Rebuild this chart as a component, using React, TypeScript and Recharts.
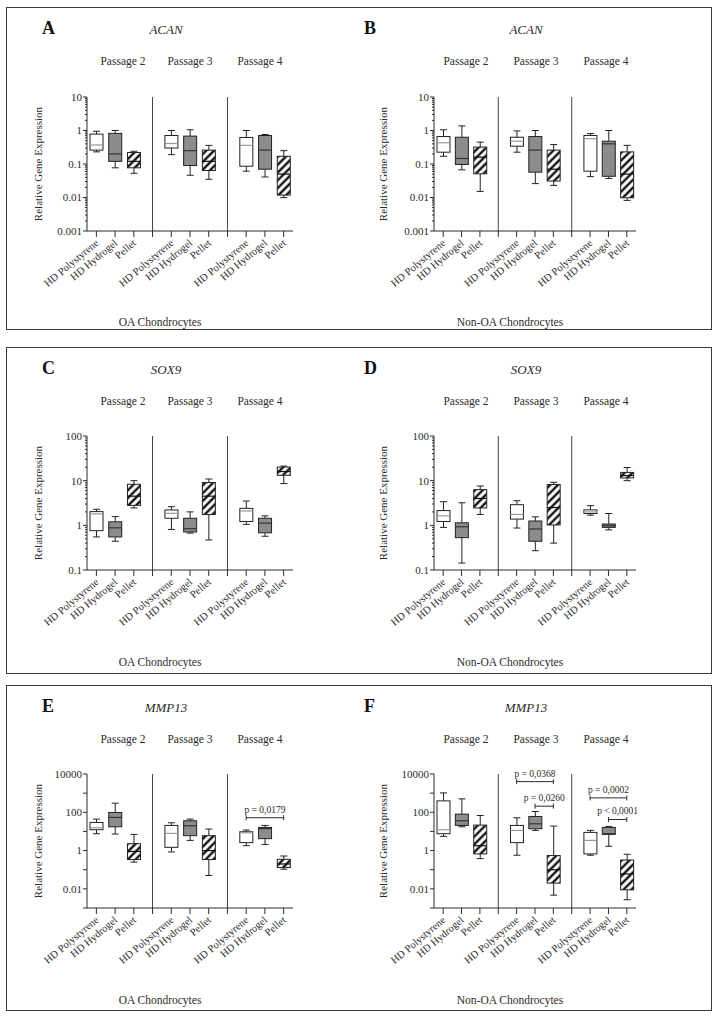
import React from "react"
import { ComposedChart, Bar, XAxis, YAxis, ReferenceLine } from "recharts"

const FONT = '"Liberation Serif", "Times New Roman", serif'
const INK = "#2b2b2b"

const CONDITIONS = ["HD Polystyrene", "HD Hydrogel", "Pellet"]
const PASSAGES = ["Passage 2", "Passage 3", "Passage 4"]

// one box = [min, q1, median, q3, max]
// order: Passage 2 (polystyrene, hydrogel, pellet), Passage 3 (...), Passage 4 (...)
const acanOA = [
  [0.23, 0.26, 0.37, 0.78, 0.95],
  [0.077, 0.12, 0.2, 0.82, 1.0],
  [0.053, 0.077, 0.12, 0.22, 0.24],
  [0.19, 0.3, 0.41, 0.71, 1.0],
  [0.046, 0.09, 0.25, 0.68, 1.05],
  [0.035, 0.064, 0.12, 0.26, 0.36],
  [0.061, 0.086, 0.36, 0.62, 1.0],
  [0.041, 0.07, 0.26, 0.71, 0.76],
  [0.0099, 0.0118, 0.05, 0.17, 0.25],
]

const acanNonOA = [
  [0.17, 0.225, 0.43, 0.66, 1.05],
  [0.067, 0.097, 0.146, 0.63, 1.37],
  [0.0152, 0.051, 0.16, 0.32, 0.45],
  [0.225, 0.34, 0.48, 0.63, 0.97],
  [0.026, 0.057, 0.26, 0.66, 1.0],
  [0.023, 0.031, 0.07, 0.26, 0.38],
  [0.042, 0.061, 0.57, 0.71, 0.81],
  [0.037, 0.043, 0.4, 0.48, 1.0],
  [0.0082, 0.0098, 0.05, 0.23, 0.36],
]

const sox9OA = [
  [0.55, 0.76, 1.8, 2.03, 2.29],
  [0.44, 0.55, 0.88, 1.2, 1.57],
  [2.45, 2.8, 4.5, 8.3, 10],
  [0.81, 1.44, 1.86, 2.21, 2.62],
  [0.67, 0.71, 0.84, 1.44, 2.0],
  [0.47, 1.74, 4.5, 9.1, 10.9],
  [1.05, 1.22, 2.1, 2.4, 3.5],
  [0.57, 0.68, 1.12, 1.44, 1.63],
  [8.6, 13.2, 16, 20.2, 21.2],
]

const sox9NonOA = [
  [0.9, 1.22, 1.63, 2.14, 3.38],
  [0.143, 0.53, 0.93, 1.14, 3.2],
  [1.75, 2.45, 4.0, 6.3, 7.6],
  [0.87, 1.38, 1.75, 2.9, 3.56],
  [0.27, 0.44, 0.83, 1.25, 1.55],
  [0.4, 1.02, 2.5, 8.2, 9.2],
  [1.69, 1.84, 2.0, 2.22, 2.76],
  [0.79, 0.9, 0.98, 1.07, 1.84],
  [10, 11.5, 13, 15.3, 19.7],
]

const mmp13OA = [
  [7.6, 12.3, 15.6, 29.5, 44],
  [7.3, 17.5, 53.7, 97.6, 298],
  [0.25, 0.34, 0.9, 2.3, 7.0],
  [0.85, 1.48, 7.9, 20.6, 28.3],
  [3.4, 6.0, 19.8, 36, 44],
  [0.05, 0.34, 1.0, 6.0, 13.3],
  [1.8, 2.6, 8.5, 9.6, 11.8],
  [2.1, 4.2, 14, 16.2, 20.6],
  [0.106, 0.13, 0.2, 0.35, 0.52],
]

const mmp13NonOA = [
  [5.5, 7.6, 12.3, 394, 1028],
  [17.5, 20.6, 36, 80, 501],
  [0.38, 0.67, 1.8, 21.4, 68],
  [0.57, 2.6, 11.3, 20.6, 51.6],
  [11.3, 13.8, 25, 60.5, 110],
  [0.0047, 0.02, 0.1, 0.55, 19],
  [0.57, 0.67, 3.4, 8.9, 11.3],
  [1.67, 7.0, 7.6, 16.2, 18.3],
  [0.0027, 0.0089, 0.06, 0.32, 0.64],
]

// significance brackets: passage index, from/to condition index, height in data units
const mmp13OABrackets = [{ passage: 2, from: 0, to: 2, y: 52, text: "p = 0,0179" }]
const mmp13NonOABrackets = [
  { passage: 1, from: 0, to: 2, y: 3990, text: "p = 0,0368" },
  { passage: 1, from: 1, to: 2, y: 209, text: "p = 0,0260" },
  { passage: 2, from: 0, to: 2, y: 565, text: "p = 0,0002" },
  { passage: 2, from: 1, to: 2, y: 42, text: "p < 0,0001" },
]

const acanTicks = [0.001, 0.01, 0.1, 1, 10]
const sox9Ticks = [0.1, 1, 10, 100]
const mmp13Ticks = [0.001, 0.01, 0.1, 1, 10, 100, 1000, 10000]
const mmp13Labels = [0.01, 1, 100, 10000]

const ROW_TOP = [7, 347, 685]
const ROW_BOTTOM = [330, 674, 1011]
const PLOT_TOP = [97, 436, 774]
const PLOT_H = 134
const SIDES = [
  { chartLeft: 0, plotLeft: 87, plotRight: 293, letterX: 42, geneX: 166, passX: [123, 190, 260], capX: 160, yLabX: 42 },
  { chartLeft: 347, plotLeft: 434, plotRight: 636, letterX: 364, geneX: 526, passX: [466, 536, 606], capX: 510, yLabX: 387 },
]
const CHART_W = 358
const MT = 24
const XAXIS_H = 70

const panels = [
  { id: "A", gene: "ACAN", caption: "OA Chondrocytes", row: 0, side: 0, boxes: acanOA, ticks: acanTicks, labels: acanTicks, minor: true, brackets: [] as any[] },
  { id: "B", gene: "ACAN", caption: "Non-OA Chondrocytes", row: 0, side: 1, boxes: acanNonOA, ticks: acanTicks, labels: acanTicks, minor: true, brackets: [] as any[] },
  { id: "C", gene: "SOX9", caption: "OA Chondrocytes", row: 1, side: 0, boxes: sox9OA, ticks: sox9Ticks, labels: sox9Ticks, minor: true, brackets: [] as any[] },
  { id: "D", gene: "SOX9", caption: "Non-OA Chondrocytes", row: 1, side: 1, boxes: sox9NonOA, ticks: sox9Ticks, labels: sox9Ticks, minor: true, brackets: [] as any[] },
  { id: "E", gene: "MMP13", caption: "OA Chondrocytes", row: 2, side: 0, boxes: mmp13OA, ticks: mmp13Ticks, labels: mmp13Labels, minor: false, brackets: mmp13OABrackets },
  { id: "F", gene: "MMP13", caption: "Non-OA Chondrocytes", row: 2, side: 1, boxes: mmp13NonOA, ticks: mmp13Ticks, labels: mmp13Labels, minor: false, brackets: mmp13NonOABrackets },
]

function buildRows(boxes: number[][]) {
  const rows: any[] = []
  PASSAGES.forEach((_, p) => {
    if (p > 0) rows.push({ key: `sep${p}`, label: "", cond: -1 })
    CONDITIONS.forEach((label, c) => {
      const stats = boxes[p * 3 + c]
      rows.push({ key: `p${p}c${c}`, label, cond: c, stats, range: [stats[0], stats[4]] })
    })
  })
  return rows
}

function withMinor(ticks: number[], minor: boolean) {
  if (!minor) return ticks
  const out: number[] = []
  ticks.forEach((t, i) => {
    out.push(t)
    if (i < ticks.length - 1) for (let m = 2; m <= 9; m++) out.push(+(t * m).toPrecision(6))
  })
  return out
}

const isDecade = (v: number) => Math.abs(Math.log10(v) - Math.round(Math.log10(v))) < 1e-6

function YTick(props: any) {
  const { x, y, payload, labels } = props
  const v = payload.value
  const major = isDecade(v)
  const len = major ? 4 : 2
  const show = labels.some((l: number) => Math.abs(l - v) < 1e-12)
  return (
    <g>
      <line x1={x - len} x2={x} y1={y} y2={y} stroke={INK} strokeWidth={1} />
      {show && (
        <text x={x - 5} y={y} dy="0.35em" textAnchor="end" fontSize={11} fill={INK} fontFamily={FONT}>
          {String(v)}
        </text>
      )}
    </g>
  )
}

function XTick(props: any) {
  const { x, y, payload, labelOf } = props
  const label = labelOf[payload.value] || ""
  const ax = x + 3
  const ay = y + 13
  return (
    <g>
      <line x1={x} x2={x} y1={y} y2={y + 6} stroke={INK} strokeWidth={1} />
      {label && (
        <text x={ax} y={ay} textAnchor="end" fontSize={10.5} fill={INK} fontFamily={FONT} transform={`rotate(-40 ${ax} ${ay})`}>
          {label}
        </text>
      )}
    </g>
  )
}

function BoxShape(props: any) {
  const { x, y, width, height, payload, hatch } = props
  if (!payload || !payload.stats || !isFinite(y) || !isFinite(height)) return null
  const [mn, q1, md, q3, mx] = payload.stats
  const top = Math.min(y, y + height)
  const bottom = Math.max(y, y + height)
  const lo = Math.log10(mn)
  const hi = Math.log10(mx)
  const at = (v: number) => bottom - ((bottom - top) * (Math.log10(v) - lo)) / (hi - lo)
  const cx = x + width / 2
  const cap = 3.5
  const fill = payload.cond === 0 ? "#fff" : payload.cond === 1 ? "#8c8c8c" : `url(#${hatch})`
  const medColor = payload.cond === 0 ? "#999" : payload.cond === 1 ? "#333" : "#111"
  const yq3 = at(q3)
  const yq1 = at(q1)
  return (
    <g>
      <line x1={cx} x2={cx} y1={top} y2={yq3} stroke="#222" />
      <line x1={cx} x2={cx} y1={yq1} y2={bottom} stroke="#222" />
      <line x1={cx - cap} x2={cx + cap} y1={top} y2={top} stroke="#222" />
      <line x1={cx - cap} x2={cx + cap} y1={bottom} y2={bottom} stroke="#222" />
      <rect x={x} y={yq3} width={width} height={Math.max(1, yq1 - yq3)} fill={fill} stroke="#222" strokeWidth={1} />
      <line x1={x} x2={x + width} y1={at(md)} y2={at(md)} stroke={medColor} strokeWidth={1.2} />
    </g>
  )
}

function BracketShape(props: any) {
  const { x1, y1, x2, text } = props
  if (!isFinite(x1) || !isFinite(y1)) return null
  return (
    <g>
      <line x1={x1} x2={x2} y1={y1} y2={y1} stroke={INK} strokeWidth={1} />
      <line x1={x1} x2={x1} y1={y1 - 2.5} y2={y1 + 2.5} stroke={INK} strokeWidth={1} />
      <line x1={x2} x2={x2} y1={y1 - 2.5} y2={y1 + 2.5} stroke={INK} strokeWidth={1} />
      <text x={(x1 + x2) / 2} y={y1 - 5} textAnchor="middle" fontSize={9.5} fill={INK} fontFamily={FONT}>
        {text}
      </text>
    </g>
  )
}

function Panel({ cfg }: { cfg: any }) {
  const side = SIDES[cfg.side]
  const rows = buildRows(cfg.boxes)
  const labelOf: Record<string, string> = {}
  rows.forEach((r) => (labelOf[r.key] = r.label))
  const hatch = `hatch-${cfg.id}`
  const ticks = withMinor(cfg.ticks, cfg.minor)
  const domain = [cfg.ticks[0], cfg.ticks[cfg.ticks.length - 1]]
  const top = PLOT_TOP[cfg.row] - MT
  return (
    <div style={{ position: "absolute", left: side.chartLeft, top }}>
      <ComposedChart
        width={CHART_W}
        height={MT + PLOT_H + XAXIS_H}
        data={rows}
        margin={{ top: MT, right: side.chartLeft + CHART_W - side.plotRight, left: side.plotLeft - side.chartLeft - 60, bottom: 0 }}
      >
        <defs>
          <pattern id={hatch} patternUnits="userSpaceOnUse" width={5.5} height={5.5} patternTransform="rotate(45)">
            <rect width={5.5} height={5.5} fill="#fff" />
            <line x1={2.75} y1={0} x2={2.75} y2={5.5} stroke="#111" strokeWidth={2.4} />
          </pattern>
        </defs>
        <XAxis
          dataKey="key"
          type="category"
          interval={0}
          height={XAXIS_H}
          tickLine={false}
          tickSize={0}
          tickMargin={0}
          axisLine={{ stroke: INK }}
          tick={(p: any) => <XTick {...p} labelOf={labelOf} />}
        />
        <YAxis
          type="number"
          scale="log"
          domain={domain}
          allowDataOverflow
          ticks={ticks}
          interval={0}
          width={60}
          tickLine={false}
          tickSize={0}
          tickMargin={0}
          axisLine={{ stroke: INK }}
          tick={(p: any) => <YTick {...p} labels={cfg.labels} />}
        />
        <ReferenceLine x="sep1" stroke="#444" />
        <ReferenceLine x="sep2" stroke="#444" />
        <Bar dataKey="range" barSize={13} isAnimationActive={false} shape={(p: any) => <BoxShape {...p} hatch={hatch} />} />
        {cfg.brackets.map((b: any, i: number) => (
          <ReferenceLine
            key={i}
            segment={[
              { x: `p${b.passage}c${b.from}`, y: b.y },
              { x: `p${b.passage}c${b.to}`, y: b.y },
            ]}
            ifOverflow="visible"
            shape={(p: any) => <BracketShape {...p} text={b.text} />}
          />
        ))}
      </ComposedChart>
    </div>
  )
}

function Decorations() {
  return (
    <svg width={717} height={1019} style={{ position: "absolute", left: 0, top: 0 }} fontFamily={FONT}>
      {panels.map((cfg) => {
        const side = SIDES[cfg.side]
        const rt = ROW_TOP[cfg.row]
        const cy = PLOT_TOP[cfg.row] + PLOT_H / 2
        return (
          <g key={cfg.id} fill={INK}>
            <text x={side.letterX} y={rt + 27} fontSize={18} fontWeight="bold" fill="#111">
              {cfg.id}
            </text>
            <text x={side.geneX} y={rt + 27} fontSize={13} fontStyle="italic" textAnchor="middle">
              {cfg.gene}
            </text>
            {PASSAGES.map((p, i) => (
              <text key={p} x={side.passX[i]} y={rt + 58} fontSize={11.5} textAnchor="middle">
                {p}
              </text>
            ))}
            <text x={side.yLabX} y={cy} fontSize={11} textAnchor="middle" transform={`rotate(-90 ${side.yLabX} ${cy})`}>
              Relative Gene Expression
            </text>
            <text x={side.capX} y={rt + 319} fontSize={11.5} textAnchor="middle">
              {cfg.caption}
            </text>
          </g>
        )
      })}
    </svg>
  )
}

export default function App() {
  return (
    <div style={{ position: "absolute", left: 0, top: 0, width: 717, height: 1019, background: "#fff", fontFamily: FONT }}>
      {ROW_TOP.map((t, i) => (
        <div
          key={i}
          style={{
            position: "absolute",
            left: 6,
            top: t,
            width: 706,
            height: ROW_BOTTOM[i] - t,
            border: "1.5px solid #3a3a3a",
            boxSizing: "border-box",
          }}
        />
      ))}
      <Decorations />
      {panels.map((cfg) => (
        <Panel key={cfg.id} cfg={cfg} />
      ))}
    </div>
  )
}
